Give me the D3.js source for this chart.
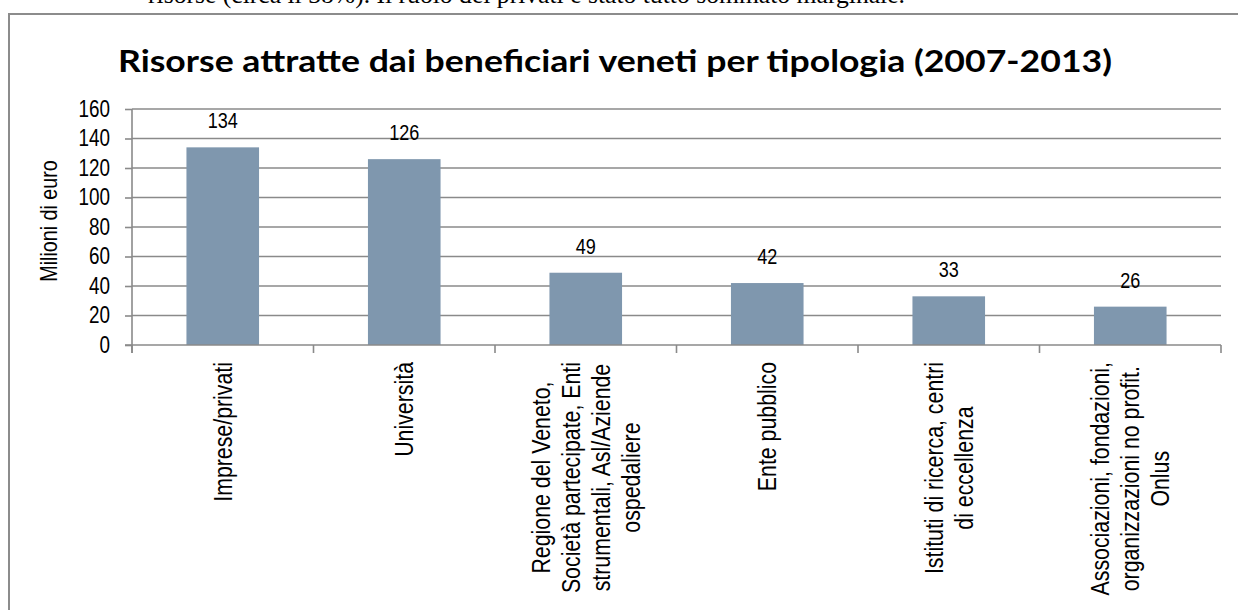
<!DOCTYPE html>
<html><head><meta charset="utf-8">
<script src="https://cdnjs.cloudflare.com/ajax/libs/d3/7.8.5/d3.min.js"></script>
<style>
html,body{margin:0;padding:0;background:#fff;overflow:hidden}
svg{display:block}
</style></head>
<body>
<svg id="c" width="1238" height="610"></svg>
<script>
const categories = [
  "Imprese/privati",
  "Università",
  "Regione del Veneto,\nSocietà partecipate, Enti\nstrumentali, Asl/Aziende\nospedaliere",
  "Ente pubblico",
  "Istituti di ricerca,  centri\ndi eccellenza",
  "Associazioni, fondazioni,\norganizzazioni no profit.\nOnlus"
];
const values = [134, 126, 49, 42, 33, 26];
const yTicks = [0, 20, 40, 60, 80, 100, 120, 140, 160];
const title = "Risorse attratte dai beneficiari veneti per tipologia (2007-2013)";
const yTitle = "Milioni di euro";
const topText = "risorse (circa il 38%). Il ruolo dei privati è stato tutto sommato marginale.";

const sans = "'Liberation Sans',Arial,sans-serif";
const NARROW = 0.82; // emulate a narrow face by compressing Liberation Sans
const gridCol = "#8a8a8a";
const barCol = "#7f97ae";

// compress a text selection horizontally (along its own baseline)
function narrowText(sel) {
  sel.each(function () {
    const len = this.getComputedTextLength();
    if (len > 0) d3.select(this).attr("textLength", len * NARROW).attr("lengthAdjust", "spacingAndGlyphs");
  });
  return sel;
}

const svg = d3.select("#c");
const L = 132, R = 1221, T = 109, B = 345;

// clipped paragraph text at top of page
svg.append("text").attr("x", 148).attr("y", 3)
  .attr("font-family", "'Liberation Serif',serif").attr("font-size", 25)
  .attr("textLength", 757).attr("lengthAdjust", "spacingAndGlyphs")
  .attr("fill", "#000").text(topText);

// chart frame
svg.append("rect").attr("x", 9).attr("y", 14).attr("width", 1260).attr("height", 700)
  .attr("fill", "none").attr("stroke", "#8c8c8c").attr("stroke-width", 2);

// title
svg.append("text").attr("x", 615).attr("y", 72).attr("text-anchor", "middle")
  .attr("font-family", "Lato,'Open Sans',sans-serif").attr("font-weight", "bold")
  .attr("font-size", 31).attr("textLength", 994).attr("lengthAdjust", "spacingAndGlyphs")
  .attr("fill", "#000").text(title);

const y = d3.scaleLinear().domain([0, 160]).range([B, T]);
const xb = d3.scaleBand().domain(categories).range([L, R]).padding(0);
const xbar = d3.scaleBand().domain(categories).range([L, R]).paddingInner(0.6).paddingOuter(0.3);

// gridlines
svg.append("g").selectAll("line").data(yTicks.filter(d => d > 0)).join("line")
  .attr("x1", L).attr("x2", R).attr("y1", d => y(d)).attr("y2", d => y(d))
  .attr("stroke", gridCol).attr("stroke-width", 1.6);

// bars
svg.append("g").selectAll("rect").data(values).join("rect")
  .attr("x", (d, i) => xbar(categories[i]))
  .attr("width", xbar.bandwidth())
  .attr("y", d => y(d)).attr("height", d => B - y(d))
  .attr("fill", barCol);

// y axis
const yAxis = d3.axisLeft(y).tickValues(yTicks).tickSize(7).tickPadding(15).tickSizeOuter(0);
const gy = svg.append("g").attr("transform", `translate(${L},0)`).call(yAxis);
gy.select(".domain").attr("stroke", gridCol).attr("stroke-width", 1.6).attr("d", `M0,${T}V${B + 8}`);
gy.selectAll(".tick line").attr("stroke", gridCol).attr("stroke-width", 1.6);
narrowText(gy.selectAll(".tick text").attr("font-family", sans).attr("font-size", 23).attr("fill", "#000"));

// x axis line + ticks at band edges
const edges = categories.map(c => xb(c)).concat([R]);
svg.append("line").attr("x1", L - 7).attr("x2", R).attr("y1", B).attr("y2", B)
  .attr("stroke", gridCol).attr("stroke-width", 1.6);
svg.append("g").selectAll("line").data(edges).join("line")
  .attr("x1", d => d).attr("x2", d => d).attr("y1", B).attr("y2", B + 8)
  .attr("stroke", gridCol).attr("stroke-width", 1.6);

// value labels
narrowText(svg.append("g").selectAll("text").data(values).join("text")
  .attr("x", (d, i) => xb(categories[i]) + xb.bandwidth() / 2)
  .attr("y", d => y(d) - 19).attr("text-anchor", "middle")
  .attr("font-family", sans).attr("font-size", 22).attr("fill", "#000")
  .text(d => d));

// y title
narrowText(svg.append("text").attr("transform", "translate(49,221) rotate(-90)")
  .attr("text-anchor", "middle").attr("dy", "0.35em")
  .attr("font-family", sans).attr("font-size", 24).attr("fill", "#000").text(yTitle));

// category labels (rotated, multiline, centered)
const lineH = 30, topY = 362;
categories.forEach(c => {
  const lines = c.split("\n");
  const cx = xb(c) + xb.bandwidth() / 2;
  const g = svg.append("g");
  const texts = lines.map(ln => g.append("text")
    .attr("font-family", sans).attr("font-size", 26).attr("fill", "#000")
    .attr("text-anchor", "middle").attr("dy", "0.35em").text(ln));
  texts.forEach(t => narrowText(t));
  const maxLen = d3.max(texts, t => +t.attr("textLength"));
  const cy = topY + maxLen / 2;
  texts.forEach((t, i) => {
    const lx = cx + (i - (lines.length - 1) / 2) * lineH;
    t.attr("transform", `translate(${lx},${cy}) rotate(-90)`);
  });
});
</script>
</body></html>
